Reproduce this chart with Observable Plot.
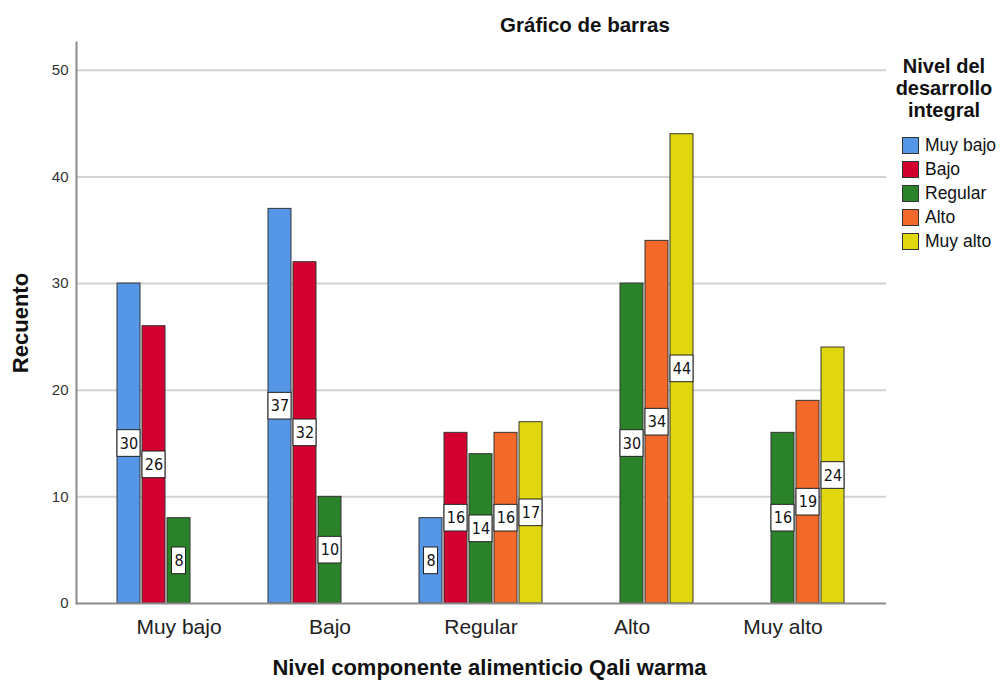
<!DOCTYPE html>
<html>
<head>
<meta charset="utf-8">
<script src="https://cdn.jsdelivr.net/npm/d3@7"></script>
<script src="https://cdn.jsdelivr.net/npm/@observablehq/plot@0.6"></script>
<style>
  html, body { margin: 0; padding: 0; background: #fff; }
  #wrap { position: relative; width: 1008px; height: 681px; font-family: "Liberation Sans", Arial, sans-serif; }
  #wrap svg { position: absolute; left: 0; top: 0; }
  #title { position: absolute; left: 435px; width: 300px; top: 13px; text-align: center; font-weight: bold; font-size: 20.5px; color: #111; }
  #legend { position: absolute; left: 890px; top: 55px; width: 118px; }
  #legend .lt { text-align: center; font-weight: bold; font-size: 20px; line-height: 22px; color: #111; width: 112px; margin-left: -2px; }
  #legend .items { position: absolute; left: 12px; top: 78px; }
  #legend .item { display: flex; align-items: center; height: 24.2px; font-size: 17.5px; color: #111; }
  #legend .sw { width: 15px; height: 15px; border: 1px solid #333; margin-right: 6px; flex: none; }
</style>
</head>
<body>
<div id="wrap">
  <div id="title"></div>
  <div id="legend"><div class="lt" id="ltitle"></div><div class="items" id="litems"></div></div>
</div>
<script>
const chartTitle = "Gráfico de barras";
const xTitle = "Nivel componente alimenticio Qali warma";
const yTitle = "Recuento";
const legendTitle = ["Nivel del", "desarrollo", "integral"];

const groups = ["Muy bajo", "Bajo", "Regular", "Alto", "Muy alto"];
const series = ["Muy bajo", "Bajo", "Regular", "Alto", "Muy alto"];
const colors = ["#5596e6", "#d3002f", "#2a8229", "#f2692a", "#e1d70f"];

const serieMuyBajo = [30, 37, 8, null, null];
const serieBajo    = [26, 32, 16, null, null];
const serieRegular = [8, 10, 14, 30, 16];
const serieAlto    = [null, null, 16, 34, 19];
const serieMuyAlto = [null, null, 17, 44, 24];
const yTicks = [0, 10, 20, 30, 40, 50];

const seriesValues = [serieMuyBajo, serieBajo, serieRegular, serieAlto, serieMuyAlto];
const rows = series.flatMap((s, i) =>
  seriesValues[i].map((v, j) => ({group: groups[j], series: s, i, value: v})).filter(d => d.value != null)
);

const slot = 25;
const marks = [
  Plot.gridY(yTicks.filter(t => t > 0), {stroke: "#d2d2d2", strokeWidth: 2, strokeOpacity: 1}),
  Plot.axisY({ticks: yTicks, tickSize: 0, tickPadding: 8, fontSize: 15, label: null, fill: "#333"}),
  Plot.axisX({tickSize: 0, tickPadding: 16, fontSize: 21, label: null, fill: "#222"}),
];
series.forEach((s, i) => {
  const data = rows.filter(d => d.i === i);
  const inL = slot * i + 1, inR = slot * (4 - i) + 1;
  marks.push(Plot.barY(data, {x: "group", y: "value", fill: "series", stroke: "#353535", strokeWidth: 1, insetLeft: inL, insetRight: inR}));
});
series.forEach((s, i) => {
  const data = rows.filter(d => d.i === i);
  const inL = slot * i + 1, inR = slot * (4 - i) + 1;
  const two = data.filter(d => d.value >= 10), one = data.filter(d => d.value < 10);
  const box = (arr, extra) => Plot.barY(arr, {x: "group", y1: d => d.value / 2 - 1.25, y2: d => d.value / 2 + 1.25, fill: "white", stroke: "#222", strokeWidth: 1, insetLeft: inL + extra, insetRight: inR + extra});
  marks.push(box(two, 0), box(one, 4.5));
  marks.push(Plot.text(data, {x: "group", y: d => d.value / 2, text: d => String(d.value), dx: (i - 2) * slot, fontSize: 16, fontFamily: "DejaVu Sans Condensed, DejaVu Sans, sans-serif", fill: "#111"}));
});
marks.push(
  Plot.ruleY([0], {stroke: "#8c8c8c", strokeWidth: 2}),
  Plot.frame({anchor: "left", stroke: "#8c8c8c", strokeWidth: 2}),
  Plot.text([yTitle], {frameAnchor: "left", textAnchor: "middle", lineAnchor: "middle", rotate: -90, dx: -56, fontSize: 22, fontWeight: "bold", fill: "#111"}),
  Plot.text([xTitle], {frameAnchor: "bottom", textAnchor: "middle", lineAnchor: "middle", dx: 8, dy: 64, fontSize: 22, fontWeight: "bold", fill: "#111"})
);

const chart = Plot.plot({
  width: 1008,
  height: 681,
  marginLeft: 76,
  marginRight: 122,
  marginTop: 42,
  marginBottom: 78,
  style: {fontFamily: "Liberation Sans, Arial, sans-serif", background: "transparent"},
  x: {domain: groups, type: "band", paddingInner: 0.172, paddingOuter: 0.268},
  y: {domain: [0, 52.6]},
  color: {domain: series, range: colors},
  marks
});
document.getElementById("wrap").appendChild(chart);
document.getElementById("title").textContent = chartTitle;
document.getElementById("ltitle").innerHTML = legendTitle.map(t => `<div>${t}</div>`).join("");
document.getElementById("litems").innerHTML = series.map((s, i) =>
  `<div class="item"><span class="sw" style="background:${colors[i]}"></span>${s}</div>`).join("");
</script>
</body>
</html>
